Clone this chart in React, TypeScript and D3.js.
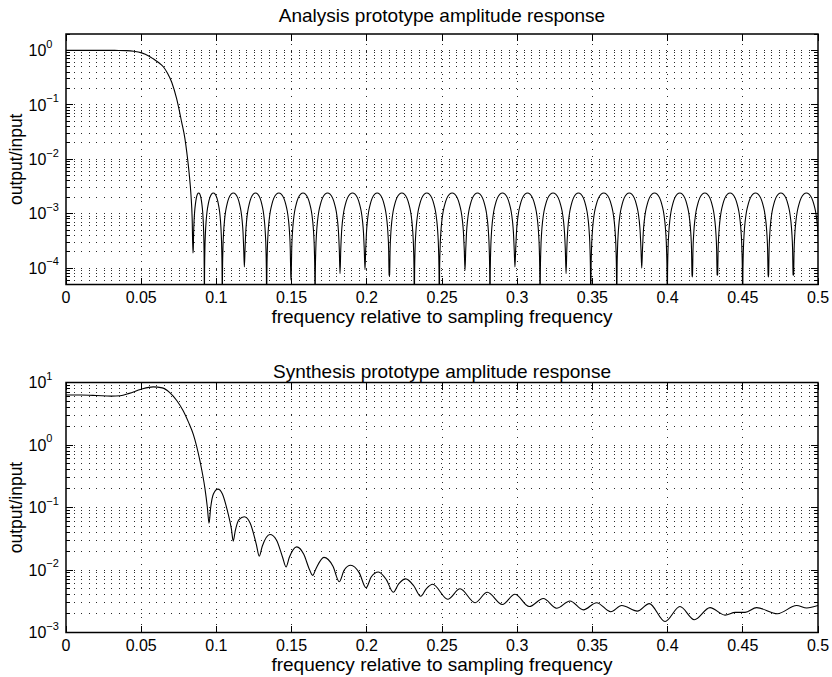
import React from 'react';
import * as d3 from 'd3';

const FONT = '"Liberation Sans", Arial, Helvetica, sans-serif';

// ---------- shared axis data ----------
const xTickValues = [0, 0.05, 0.1, 0.15, 0.2, 0.25, 0.3, 0.35, 0.4, 0.45, 0.5];
const xTickLabels = ['0', '0.05', '0.1', '0.15', '0.2', '0.25', '0.3', '0.35', '0.4', '0.45', '0.5'];
const xLabelText = 'frequency relative to sampling frequency';
const yLabelText = 'output/input';

// ---------- analysis prototype (top) ----------
const analysisTitle = 'Analysis prototype amplitude response';
const analysisYDomain = [5e-5, 2];
const analysisDecades = [0, -1, -2, -3, -4];
const analysisPassFreq = [0, 0.01, 0.02, 0.03, 0.035, 0.0403, 0.045, 0.0503, 0.055, 0.058, 0.0615, 0.0647, 0.0675, 0.0703, 0.0736, 0.0769, 0.0791, 0.0803, 0.0818, 0.0831, 0.0839];
const analysisPassMag = [1, 1, 1, 0.999, 0.997, 0.99, 0.965, 0.9, 0.79, 0.7, 0.6, 0.5, 0.38, 0.26, 0.128, 0.048, 0.0237, 0.0135, 0.0058, 0.0022, 0.0008];
// stopband nulls (frequency, depth); depths below the axis are clipped
const analysisNullFreq = [0.0844, 0.092, 0.1039, 0.1186, 0.1334, 0.1496, 0.1656, 0.1822, 0.1988, 0.215, 0.2316, 0.2482, 0.2653, 0.2819, 0.2985, 0.3152, 0.3325, 0.3489, 0.3662, 0.3828, 0.3998, 0.4164, 0.4331, 0.4499, 0.467, 0.4836, 0.501];
const analysisNullMag = [1.9e-4, 1e-5, 1e-5, 1.05e-4, 1e-5, 6e-5, 1e-5, 7.9e-5, 9.4e-5, 7.2e-5, 1e-5, 1e-5, 9.1e-5, 1e-5, 1.05e-4, 1e-5, 7.9e-5, 1e-5, 1e-5, 1.0e-4, 1e-5, 6.9e-5, 7.4e-5, 1e-5, 6.9e-5, 7.4e-5, 1e-5];
const analysisLobePeak = [2.4e-3, 2.4e-3, 2.4e-3, 2.4e-3, 2.4e-3, 2.4e-3, 2.4e-3, 2.4e-3, 2.4e-3, 2.4e-3, 2.4e-3, 2.4e-3, 2.4e-3, 2.4e-3, 2.4e-3, 2.4e-3, 2.4e-3, 2.4e-3, 2.4e-3, 2.4e-3, 2.4e-3, 2.4e-3, 2.4e-3, 2.4e-3, 2.4e-3, 2.4e-3];
// arch shape of one stopband lobe: fraction of lobe width from a null, decades below the lobe peak
const lobeShapeT = [0.01, 0.03, 0.06, 0.1, 0.15, 0.22, 0.3, 0.4, 0.5];
const lobeShapeDecades = [-1.5, -1.03, -0.73, -0.51, -0.34, -0.2, -0.09, -0.02, 0];

// ---------- synthesis prototype (bottom) ----------
const synthesisTitle = 'Synthesis prototype amplitude response';
const synthesisYDomain = [1e-3, 10];
const synthesisDecades = [1, 0, -1, -2, -3];
const synthesisFreq = [0, 0.01, 0.02, 0.03, 0.036, 0.042, 0.05, 0.058, 0.064, 0.069, 0.0735, 0.078, 0.0815, 0.0847, 0.0891, 0.0924, 0.094, 0.0951, 0.0962, 0.098, 0.101, 0.104, 0.1075, 0.11, 0.1112, 0.1125, 0.115, 0.1186, 0.1225, 0.1265, 0.1285, 0.1305, 0.1356, 0.14, 0.144, 0.1463, 0.1485, 0.1534, 0.158, 0.162, 0.164, 0.1662, 0.1715, 0.1775, 0.1817, 0.185, 0.1893, 0.195, 0.1995, 0.203, 0.2077, 0.213, 0.2176, 0.2212, 0.2259, 0.2312, 0.2358, 0.2395, 0.2438, 0.2538, 0.262, 0.272, 0.2801, 0.2901, 0.2985, 0.308, 0.3174, 0.3262, 0.3351, 0.344, 0.3528, 0.3622, 0.3695, 0.3799, 0.3878, 0.3983, 0.4082, 0.4178, 0.4282, 0.4382, 0.445, 0.4515, 0.4592, 0.473, 0.4858, 0.4925, 0.5];
const synthesisMag = [6.3, 6.3, 6.2, 6.05, 6.15, 6.7, 7.8, 8.5, 8.2, 6.9, 5.2, 3.5, 2.3, 1.47, 0.55, 0.2, 0.1, 0.056, 0.1, 0.165, 0.197, 0.165, 0.085, 0.045, 0.029, 0.042, 0.064, 0.0713, 0.056, 0.026, 0.0166, 0.024, 0.037, 0.03, 0.016, 0.0112, 0.016, 0.0234, 0.018, 0.01, 0.0082, 0.0105, 0.0159, 0.0115, 0.0065, 0.01, 0.0119, 0.009, 0.0052, 0.0078, 0.0093, 0.007, 0.0044, 0.006, 0.0072, 0.0056, 0.0038, 0.005, 0.0059, 0.0034, 0.005, 0.003, 0.0044, 0.0028, 0.0041, 0.0026, 0.0035, 0.00245, 0.0032, 0.0023, 0.003, 0.00215, 0.0027, 0.0022, 0.0029, 0.0015, 0.0026, 0.0016, 0.0025, 0.0019, 0.0021, 0.0021, 0.0025, 0.002, 0.0027, 0.00247, 0.0027];

// ---------- layout ----------
const X0 = 66;
const X1 = 818;
const TICK_FONT = 16;
const EXP_FONT = 11;
const YLABEL_FONT = 17.5;
const LABEL_FONT = 19;
const TITLE_FONT = 19;

type Pt = [number, number];

function analysisPoints(): Pt[] {
  const pts: Pt[] = analysisPassFreq.map((f, i) => [f, analysisPassMag[i]] as Pt);
  pts.push([analysisNullFreq[0], analysisNullMag[0]]);
  for (let k = 0; k < analysisNullFreq.length - 1; k++) {
    const fa = analysisNullFreq[k];
    const fb = analysisNullFreq[k + 1];
    const da = analysisNullMag[k];
    const db = analysisNullMag[k + 1];
    const peak = analysisLobePeak[k];
    const w = fb - fa;
    for (let j = 0; j < lobeShapeT.length; j++) {
      const v = peak * Math.pow(10, lobeShapeDecades[j]);
      if (v > da) pts.push([fa + lobeShapeT[j] * w, v]);
    }
    for (let j = lobeShapeT.length - 2; j >= 0; j--) {
      const v = peak * Math.pow(10, lobeShapeDecades[j]);
      if (v > db) pts.push([fb - lobeShapeT[j] * w, v]);
    }
    pts.push([fb, db]);
  }
  return pts;
}

function synthesisPoints(): Pt[] {
  return synthesisFreq.map((f, i) => [f, synthesisMag[i]] as Pt);
}

interface PanelProps {
  id: string;
  y0: number;
  y1: number;
  domain: number[];
  decades: number[];
  title: string;
  titleY: number;
  points: Pt[];
}

function Panel({ id, y0, y1, domain, decades, title, titleY, points }: PanelProps) {
  const x = d3.scaleLinear().domain([0, 0.5]).range([X0, X1]);
  const y = d3.scaleLog().domain(domain).range([y1, y0]);
  const line = d3
    .line<Pt>()
    .x((d) => x(d[0]))
    .y((d) => y(d[1]))
    .curve(d3.curveMonotoneX);

  const lo = Math.floor(Math.log10(domain[0]));
  const hi = Math.ceil(Math.log10(domain[1]));
  const marks: { v: number; major: boolean }[] = [];
  for (let n = lo; n <= hi; n++) {
    for (let k = 1; k <= 9; k++) {
      const v = k * Math.pow(10, n);
      if (v >= domain[0] * 0.9999 && v <= domain[1] * 1.0001) marks.push({ v, major: k === 1 });
    }
  }
  const gridColor = '#2a2a2a';
  const dash = '1,6.5';
  const majorLen = 7;
  const minorLen = 4;
  const midY = (y0 + y1) / 2;

  return (
    <g>
      <defs>
        <clipPath id={id}>
          <rect x={X0} y={y0} width={X1 - X0} height={y1 - y0} />
        </clipPath>
      </defs>
      {/* grid */}
      <g stroke={gridColor} strokeWidth={1} strokeDasharray={dash} shapeRendering="crispEdges" fill="none">
        {marks
          .filter((m) => y(m.v) > y0 + 0.5 && y(m.v) < y1 - 0.5)
          .map((m, i) => (
            <line key={'h' + i} x1={X0} x2={X1} y1={y(m.v)} y2={y(m.v)} />
          ))}
        {xTickValues.slice(1, -1).map((t, i) => (
          <line key={'v' + i} x1={x(t)} x2={x(t)} y1={y1} y2={y0} />
        ))}
      </g>
      {/* curve */}
      <path d={line(points) || ''} fill="none" stroke="#000" strokeWidth={1.1} clipPath={`url(#${id})`} />
      {/* ticks */}
      <g stroke="#000" strokeWidth={1} shapeRendering="crispEdges">
        {xTickValues.map((t, i) => (
          <g key={'xt' + i}>
            <line x1={x(t)} x2={x(t)} y1={y1} y2={y1 - majorLen} />
            <line x1={x(t)} x2={x(t)} y1={y0} y2={y0 + majorLen} />
          </g>
        ))}
        {marks.map((m, i) => {
          const len = m.major ? majorLen : minorLen;
          const yy = y(m.v);
          return (
            <g key={'yt' + i}>
              <line x1={X0} x2={X0 + len} y1={yy} y2={yy} />
              <line x1={X1} x2={X1 - len} y1={yy} y2={yy} />
            </g>
          );
        })}
      </g>
      {/* box */}
      <rect x={X0} y={y0} width={X1 - X0} height={y1 - y0} fill="none" stroke="#000" strokeWidth={1.5} />
      {/* x tick labels */}
      <g fontFamily={FONT} fontSize={TICK_FONT} fill="#000" textAnchor="middle">
        {xTickValues.map((t, i) => (
          <text key={'xl' + i} x={x(t)} y={y1 + 18.5}>
            {xTickLabels[i]}
          </text>
        ))}
      </g>
      {/* y tick labels */}
      <g fontFamily={FONT} fill="#000">
        {decades.map((n, i) => (
          <text key={'yl' + i} x={28.5} y={y(Math.pow(10, n)) + 5.8} fontSize={TICK_FONT}>
            10
            <tspan dy={-8.5} fontSize={EXP_FONT}>
              {n < 0 ? '\u2212' + String(-n) : String(n)}
            </tspan>
          </text>
        ))}
      </g>
      {/* labels */}
      <text x={(X0 + X1) / 2} y={titleY} fontFamily={FONT} fontSize={TITLE_FONT} textAnchor="middle">
        {title}
      </text>
      <text x={(X0 + X1) / 2} y={y1 + 38.5} fontFamily={FONT} fontSize={LABEL_FONT} textAnchor="middle">
        {xLabelText}
      </text>
      <text
        transform={`translate(22,${midY}) rotate(-90)`}
        fontFamily={FONT}
        fontSize={YLABEL_FONT}
        textAnchor="middle"
      >
        {yLabelText}
      </text>
    </g>
  );
}

export default function App() {
  const top = analysisPoints();
  const bot = synthesisPoints();
  return (
    <svg
      width={832}
      height={677}
      viewBox="0 0 832 677"
      style={{ position: 'absolute', left: 0, top: 0, background: '#fff' }}
    >
      <rect x={0} y={0} width={832} height={677} fill="#fff" />
      <Panel
        id="clipTop"
        y0={34}
        y1={284.5}
        domain={analysisYDomain}
        decades={analysisDecades}
        title={analysisTitle}
        titleY={21.5}
        points={top}
      />
      <Panel
        id="clipBot"
        y0={382.5}
        y1={632.5}
        domain={synthesisYDomain}
        decades={synthesisDecades}
        title={synthesisTitle}
        titleY={378}
        points={bot}
      />
    </svg>
  );
}
